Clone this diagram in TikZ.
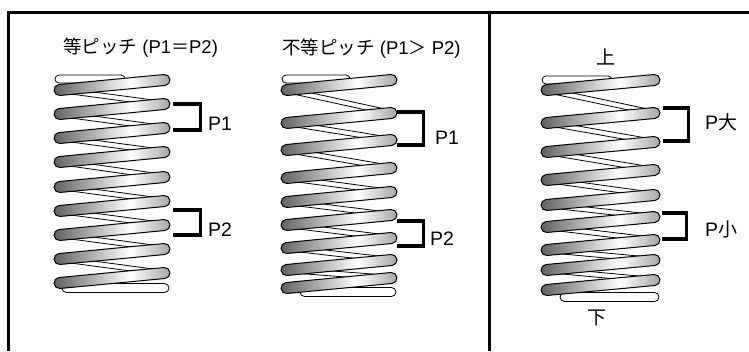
\documentclass[tikz,border=0pt]{standalone}
\usepackage{fontspec}
\setmainfont{Liberation Sans}
\newfontfamily\cjk{Noto Sans CJK JP}
\pgfdeclarehorizontalshading{coilshade}{100bp}{color(0bp)=(black!62); color(25bp)=(black!62); color(58bp)=(white); color(75bp)=(black!35); color(100bp)=(black!35)}
\newcommand\tube[6]{%
 \pgfmathsetmacro\tubeang{atan2(-((#5)-(#3)),(#4)-(#2))}%
 \pgfmathsetmacro\tubelen{veclen((#4)-(#2),(#5)-(#3))}%
 \path[#1, shift={(#2,#3)}, rotate=\tubeang] (0,-#6) -- (\tubelen,-#6) arc[start angle=-90,end angle=90,radius=#6] -- (0,#6) arc[start angle=90,end angle=270,radius=#6] -- cycle;}
\newcommand\jp[2]{{\fontsize{#1}{#1}\cjk #2}}
\tikzset{
 frontcoil/.style={draw=black, line width=1pt, shade, shading=coilshade},
 backcoil/.style={draw=black, line width=0.8pt, fill=white},
 bracket/.style={draw=black, line width=3.2pt, line cap=butt, line join=miter},
 frameline/.style={draw=black, line width=3.2pt, line join=miter},
 title/.style={inner sep=0pt, anchor=west, font=\fontsize{18.5}{20}\selectfont},
 lab/.style={inner sep=0pt, anchor=west, font=\fontsize{19.5}{21}\selectfont}
}
\begin{document}
\begin{tikzpicture}[x=1pt,y=-1pt]
\useasboundingbox[fill=white] (0,0) rectangle (749,351);
% frame
\draw[frameline] (8.5,351) -- (8.5,12.5) -- (749,12.5);
\draw[frameline] (489.5,12.5) -- (489.5,351);
% titles
\node[title] (t1) at (63,48) {\jp{18.5}{等ピッチ} (P1\jp{18}{＝}P2)};
\node[title] (t2) at (282,49) {\jp{18.5}{不等ピッチ} (P1\jp{18}{＞} P2)};
% ---------- spring 1 ----------
\tube{backcoil}{59}{79}{121}{79}{4}
\foreach \a/\b in {90/104,114/128,138/152,162/177,187/201,211/225,235/249,259/273}
  {\tube{backcoil}{59.5}{\a}{164.5}{\b}{2.5}}
\tube{backcoil}{66.5}{288}{164.5}{288}{4.5}
\foreach \l in {90,114,138,162,187,211,235,259,283}
  {\tube{frontcoil}{59.5}{\l}{164.5}{\l-10}{5.5}}
\draw[bracket] (173,104) -- (200.5,104) -- (200.5,130) -- (173,130);
\draw[bracket] (173,210) -- (200.5,210) -- (200.5,235) -- (173,235);
\node[lab] (s1p1) at (208,124) {P1};
\node[lab] (s1p2) at (208,229.5) {P2};
% ---------- spring 2 ----------
\tube{backcoil}{286}{79}{346}{79}{4}
\foreach \a/\b in {90/113,123/140,150/168,178/192,202/215,225/238,248/260,270/278}
  {\tube{backcoil}{286.5}{\a}{391.5}{\b}{2.5}}
\tube{backcoil}{304.5}{292}{391.5}{292}{4.5}
\foreach \l in {90,123,150,178,202,225,248,270,288}
  {\tube{frontcoil}{286.5}{\l}{391.5}{\l-10}{5.5}}
\draw[bracket] (397,112) -- (423.5,112) -- (423.5,145) -- (397,145);
\draw[bracket] (397,221) -- (423.5,221) -- (423.5,246) -- (397,246);
\node[lab] (s2p1) at (435,138) {P1};
\node[lab] (s2p2) at (430,239) {P2};
% ---------- spring 3 ----------
\tube{backcoil}{546}{80}{608}{80}{4}
\foreach \a/\b in {90/113,123/142,152/170,180/195,205/217,227/240,250/260,270/280}
  {\tube{backcoil}{546.5}{\a}{654.5}{\b}{2.5}}
\tube{backcoil}{564.5}{297}{654.5}{297}{4.5}
\foreach \l in {90,123,152,180,205,227,250,270,290}
  {\tube{frontcoil}{546.5}{\l}{654.5}{\l-10}{5.5}}
\draw[bracket] (663,108) -- (688.5,108) -- (688.5,141) -- (663,141);
\draw[bracket] (662,213) -- (686.5,213) -- (686.5,239) -- (662,239);
\node[lab] (s3pl) at (705,122) {P\jp{19}{大}};
\node[lab] (s3ps) at (705,229) {P\jp{19}{小}};
\node[inner sep=0pt] (top) at (606,57) {\jp{19}{上}};
\node[inner sep=0pt] (bot) at (597,318) {\jp{19}{下}};
\end{tikzpicture}
\end{document}
